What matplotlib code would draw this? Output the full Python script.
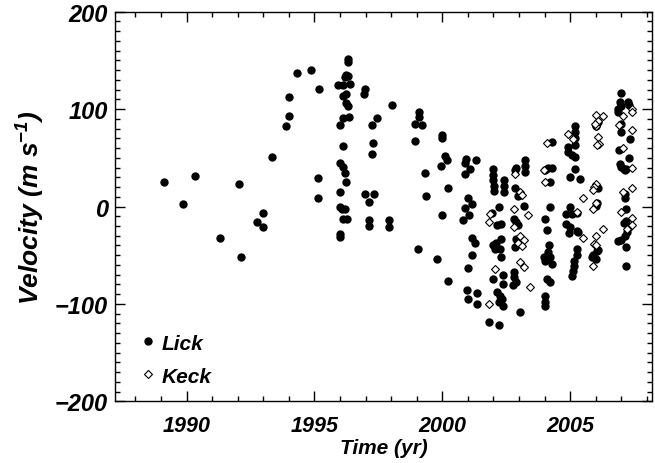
import matplotlib
matplotlib.use("Agg")
import matplotlib.pyplot as plt
from matplotlib.ticker import MultipleLocator

# Lick radial velocities (time in yr, velocity in m/s)
lick_t = [
    1989.13, 1989.87, 1990.34, 1991.32, 1992.06, 1992.13, 1992.77, 1993.00, 1993.00,
    1993.34, 1993.87, 1993.99, 1993.99, 1994.31, 1994.87, 1995.13, 1995.13, 1995.19,
    1996.32, 1996.32, 1996.25, 1996.19, 1996.32, 1995.91, 1996.10, 1996.40, 1996.10,
    1996.22, 1996.25, 1996.30, 1996.10, 1996.35, 1996.00, 1996.10, 1996.00, 1996.10,
    1996.19, 1996.25, 1996.00, 1996.00, 1996.08, 1996.19, 1996.10, 1996.28, 1996.00,
    1996.00,
    1996.96, 1996.92, 1997.25, 1997.44, 1997.27, 1997.25, 1996.97, 1997.31, 1997.15,
    1997.15, 1997.15, 1997.90, 1997.90, 1998.05,
    1999.09, 1999.09, 1998.94, 1999.19, 1998.92, 1999.98, 1999.98, 2000.10, 2000.19,
    1999.96, 1999.32, 2000.23, 1999.35, 1999.98, 1999.06, 1999.80, 2000.23,
    2000.87, 2000.93, 2001.32, 2000.88, 2001.09, 2001.01, 2001.17, 2000.87, 2001.04,
    2000.81, 2001.17, 2001.27, 2001.17, 2001.01, 2000.95, 2001.01, 2001.36, 2001.36,
    2001.84, 2002.20,
    2002.00, 2002.00, 2002.00, 2002.03, 2002.03, 2002.40, 2002.40, 2002.40, 2002.20,
    2001.95, 2002.15, 2002.30, 2002.00, 2002.10, 2002.30, 2002.05, 2002.25, 2002.30,
    2001.97, 2002.36, 2002.36, 2002.15, 2002.25, 2002.20, 2002.35, 2002.38,
    2002.88, 2003.25, 2003.25, 2003.25, 2002.84, 2002.83, 2002.96, 2003.05, 2003.18,
    2002.80, 2002.87, 2002.96, 2002.90, 2002.96, 2002.84, 2002.80, 2002.80, 2002.75,
    2002.90, 2003.05,
    2004.15, 2004.30, 2004.00, 2004.20, 2004.22, 2004.02, 2004.08, 2004.18, 2004.15,
    2004.22, 2004.28, 2004.00, 2003.96, 2004.08, 2004.20, 2004.03, 2004.01, 2004.03,
    2004.30,
    2005.18, 2005.18, 2005.18, 2005.18, 2004.93, 2004.93, 2005.06, 2005.18, 2005.18,
    2005.00, 2005.38, 2004.98, 2004.82, 2005.07, 2005.26, 2004.82, 2005.00, 2004.95,
    2005.25, 2005.30, 2005.28, 2005.25, 2005.15, 2005.15, 2005.10, 2005.06,
    2006.02, 2006.08, 2006.04, 2006.02, 2006.04, 2006.07, 2005.90, 2005.84, 2006.02,
    2006.10, 2006.02,
    2007.00, 2006.93, 2007.00, 2006.87, 2006.87, 2007.26, 2007.30, 2007.00, 2007.00,
    2007.34, 2006.92, 2007.32, 2006.93, 2007.00, 2007.10, 2007.15, 2007.18, 2007.15,
    2007.13, 2007.20, 2007.20, 2007.10, 2007.30, 2007.23, 2006.87, 2006.97, 2007.13,
    2007.20, 2007.20,
]
lick_v = [
    25, 3, 31, -32, 23, -52, -16, -7, -21,
    51, 83, 93, 112, 137, 140, 29, 9, 121,
    151, 148, 135, 133, 134, 125, 125, 126, 113,
    115, 106, 103, 91, 92, 84, 62, 45, 41,
    34, 25, 15, -1, -3, -3, -13, -13, -28,
    -31,
    121, 116, 84, 91, 65, 54, 13, 13, 5,
    -14, -20, -14, -21, 104,
    97, 92, 85, 84, 67, 73, 70, 52, 48,
    42, 34, 19, 11, -9, -44, -54, -76,
    45, 49, 48, 33, 38, 9, 3, -2, -9,
    -14, -32, -37, -50, -63, -86, -95, -89, -100,
    -119, -122,
    38, 32, 27, 21, 16, 27, 21, 15, 0,
    -7, -19, -18, -40, -37, -33, -44, -44, -52,
    -74, -70, -80, -88, -92, -98, -95, -102,
    40, 48, 42, 35, 37, 19, 11, 12, 1,
    -13, -16, -19, -33, -38, -42, -67, -72, -81,
    -78, -108,
    40, 40, 37, 25, -1, -13, -24, -40, -47,
    -52, -59, -56, -52, -74, -78, -92, -98, -102,
    66,
    83, 76, 70, 63, 61, 56, 53, 51, 38,
    30, 28, -1, -8, -8, -7, -18, -21, -27,
    -25, -26, -44, -50, -56, -61, -66, -71,
    21, 19, 4, 1, -46, -45, -50, -52, -54,
    87, 83,
    117, 107, 103, 100, 97, 107, 104, 85, 76,
    69, 58, 50, 44, 41, 38, 37, 39, 13,
    9, -3, -15, -17, -21, -26, -35, -34, -30,
    -42, -61,
]

# Keck radial velocities
keck_t = [
    2001.88, 2001.82, 2002.05, 2001.84,
    2002.84, 2003.05, 2003.10, 2002.80, 2003.37, 2002.80, 2003.05, 2003.20, 2002.96,
    2003.13, 2003.05, 2003.20, 2003.44,
    2003.96, 2004.02, 2004.09,
    2004.90, 2005.13, 2005.49, 2005.25, 2005.49,
    2006.02, 2006.28, 2006.10, 2006.02, 2005.96, 2006.10, 2006.12, 2006.06,
    2006.02, 2005.94, 2005.90, 2006.02, 2005.90, 2006.28, 2006.02, 2005.92, 2006.00,
    2005.90,
    2007.06, 2007.40, 2007.40, 2006.92, 2007.40, 2007.07, 2007.40, 2007.07, 2007.40,
    2006.97, 2007.40, 2007.40, 2007.22,
]
keck_v = [
    -8, -16, -64, -100,
    33, 15, 12, -3, -9, -21, -30, -34, -37,
    -41, -57, -62, -83,
    37, 25, 65,
    74, 69, 9, -6, -32,
    94, 93, 88, 83, 85, 71, 64, 63,
    23, 20, 17, 4, -3, -23, -30, -38, -40,
    -61,
    93, 100, 97, 84, 79, 60, 40, 15, 19,
    -6, -12, -19, -23,
]

plt.rcParams["font.family"] = ["Liberation Sans", "DejaVu Sans"]
plt.rcParams["font.weight"] = "bold"
plt.rcParams["font.style"] = "italic"
plt.rcParams["axes.labelweight"] = "bold"
plt.rcParams["mathtext.default"] = "regular"

fig = plt.figure(figsize=(6.55, 4.64), dpi=100)
ax = fig.add_axes([0.1756, 0.133, 0.8198, 0.8396])

ax.plot(lick_t, lick_v, "o", color="black", markersize=5.0, label="Lick",
        linestyle="none")
ax.plot(keck_t, keck_v, "D", markerfacecolor="white", markeredgecolor="black",
        markeredgewidth=0.8, markersize=4.4, label="Keck", linestyle="none")

ax.set_xlim(1987.2, 2008.2)
ax.set_ylim(-200, 200)
ax.xaxis.set_major_locator(MultipleLocator(5))
ax.xaxis.set_minor_locator(MultipleLocator(1))
ax.yaxis.set_major_locator(MultipleLocator(100))
ax.yaxis.set_minor_locator(MultipleLocator(10))
ax.tick_params(which="both", direction="in", top=True, right=True, width=1)
ax.tick_params(which="major", length=7)
ax.tick_params(which="minor", length=3.5)
ax.tick_params(axis="x", labelsize=15.5, pad=10)
ax.tick_params(axis="y", labelsize=17, pad=5)
for s in ax.spines.values():
    s.set_linewidth(1)

ax.set_xlabel("Time (yr)", fontsize=15, labelpad=1)
ax.set_ylabel("Velocity (m s$^{-1}$)", fontsize=19, labelpad=6)

ax.legend(loc="lower left", bbox_to_anchor=(0.018, 0.008), frameon=False,
          handletextpad=0.15, borderaxespad=0.3, borderpad=0.3,
          labelspacing=0.68, handlelength=1.0,
          prop={"family": "Liberation Sans", "weight": "bold",
                "style": "italic", "size": 15})

fig.savefig("out.png", dpi=100)
